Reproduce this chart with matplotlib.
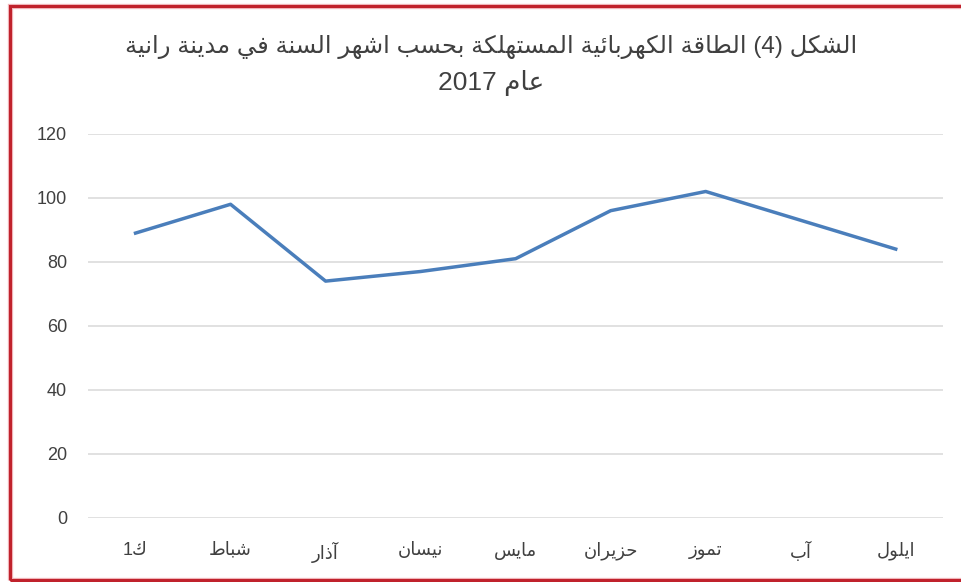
import re
import matplotlib
matplotlib.use("Agg")
import matplotlib.pyplot as plt
from matplotlib.patches import Rectangle

plt.rcParams["font.family"] = ["Liberation Sans", "DejaVu Sans"]

# data
months = ["ك1", "شباط", "آذار", "نيسان", "مايس", "حزيران", "تموز", "آب", "ايلول"]
energy = [89, 98, 74, 77, 81, 96, 102, 93, 84]
y_ticks = [0, 20, 40, 60, 80, 100, 120]
title_1 = "الشكل (4) الطاقة الكهربائية المستهلكة بحسب اشهر السنة في مدينة رانية"
title_2 = "عام 2017"

# matplotlib has no arabic shaping / bidi, so do a small one here
DUAL = {'ئ': 0xFE89, 'ب': 0xFE8F, 'ت': 0xFE95, 'ث': 0xFE99, 'ج': 0xFE9D, 'ح': 0xFEA1,
        'خ': 0xFEA5, 'س': 0xFEB1, 'ش': 0xFEB5, 'ص': 0xFEB9, 'ض': 0xFEBD, 'ط': 0xFEC1,
        'ظ': 0xFEC5, 'ع': 0xFEC9, 'غ': 0xFECD, 'ف': 0xFED1, 'ق': 0xFED5, 'ك': 0xFED9,
        'ل': 0xFEDD, 'م': 0xFEE1, 'ن': 0xFEE5, 'ه': 0xFEE9, 'ي': 0xFEF1}
RIGHT = {'آ': 0xFE81, 'أ': 0xFE83, 'إ': 0xFE87, 'ا': 0xFE8D, 'ة': 0xFE93, 'د': 0xFEA9,
         'ذ': 0xFEAB, 'ر': 0xFEAD, 'ز': 0xFEAF, 'و': 0xFEED, 'ى': 0xFEEF}
LAMALEF = {'آ': 0xFEF5, 'أ': 0xFEF7, 'إ': 0xFEF9, 'ا': 0xFEFB}
MIRROR = {'(': ')', ')': '('}


def ar(text):
    res = []
    i, n = 0, len(text)
    while i < n:
        c = text[i]
        prev = text[i - 1] if i > 0 else ''
        jp = int(prev in DUAL and (c in DUAL or c in RIGHT))
        if c == 'ل' and i + 1 < n and text[i + 1] in LAMALEF:
            res.append(chr(LAMALEF[text[i + 1]] + jp))
            i += 2
            continue
        nxt = text[i + 1] if i + 1 < n else ''
        if c in DUAL:
            jn = int(nxt in DUAL or nxt in RIGHT)
            res.append(chr(DUAL[c] + jp + 2 * jn))
        elif c in RIGHT:
            res.append(chr(RIGHT[c] + jp))
        else:
            res.append(c)
        i += 1
    tokens = re.findall(r'[0-9]+|.', ''.join(res))
    return ''.join(MIRROR.get(t, t) for t in reversed(tokens))


fig = plt.figure(figsize=(9.62, 5.82), dpi=100)
ax = fig.add_axes([0.0915, 0.110, 0.889, 0.660])

x = list(range(len(months)))
ax.plot(x, energy, color="#4A7EBB", lw=2.5, solid_joinstyle="round")

ax.set_xlim(-0.5, len(months) - 0.5)
ax.set_ylim(0, 120)
ax.set_yticks(y_ticks)
ax.set_xticks(x)
ax.set_xticklabels([ar(m) for m in months])
ax.grid(axis="y", color="#D9D9D9", lw=1.1)
ax.set_axisbelow(True)
for s in ax.spines.values():
    s.set_visible(False)
ax.tick_params(axis="y", length=0, pad=15, labelsize=13, labelcolor="#404040")
ax.tick_params(axis="x", length=0, pad=17, labelsize=13, labelcolor="#404040")

fig.text(0.511, 0.920, ar(title_1), ha="center", va="center", fontsize=17.5, color="#404040")
fig.text(0.511, 0.858, ar(title_2), ha="center", va="center", fontsize=19, color="#404040")

# red frame
fig.add_artist(Rectangle((0.0105, 0.0034), 1.0, 0.9862, transform=fig.transFigure,
                         fill=False, ec="#F2B8BC", lw=3.8))
fig.add_artist(Rectangle((0.0105, 0.0034), 1.0, 0.9862, transform=fig.transFigure,
                         fill=False, ec="#C0222C", lw=2.2))

fig.savefig("out.png", dpi=100)
